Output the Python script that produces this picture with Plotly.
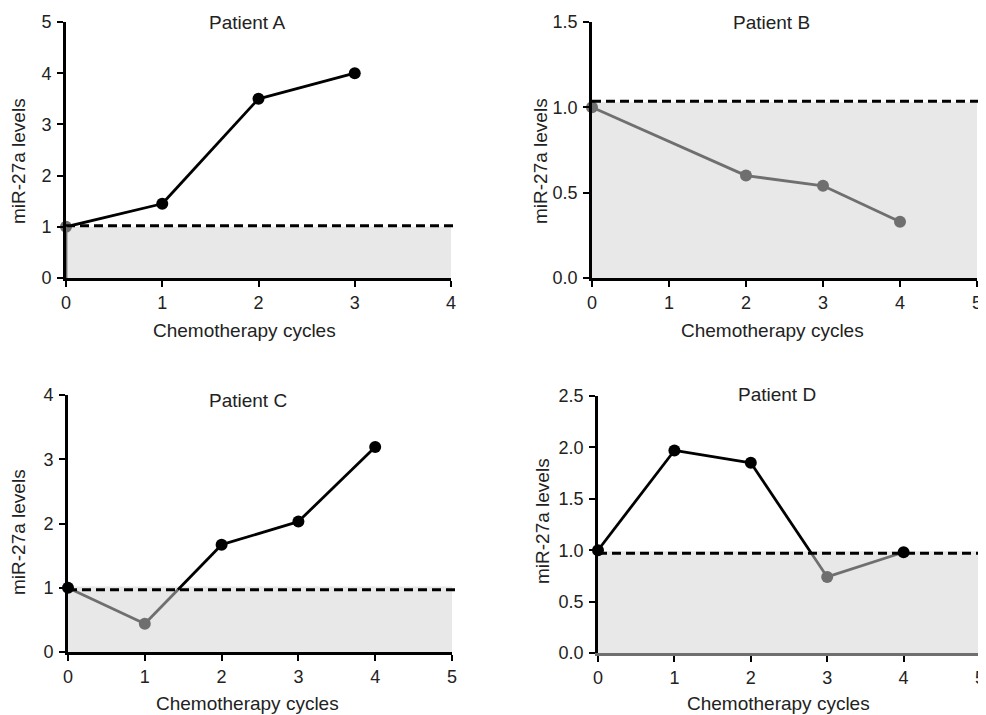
import plotly.graph_objects as go

# The page body adds an 8px margin; design in screen pixels and convert.
OFF = 8
W, H = 986 - OFF, 715 - OFF

# ---- data ----
titles = ["Patient A", "Patient B", "Patient C", "Patient D"]
cycles_A = [0, 1, 2, 3]
levels_A = [1.0, 1.45, 3.5, 4.0]
cycles_B = [0, 2, 3, 4]
levels_B = [1.0, 0.6, 0.54, 0.33]
cycles_C = [0, 1, 2, 3, 4]
levels_C = [1.0, 0.44, 1.67, 2.03, 3.19]
cycles_D = [0, 1, 2, 3, 4]
levels_D = [1.0, 1.97, 1.85, 0.74, 0.98]

# reference band (shaded) top and dashed threshold per panel
band_top = [1.0, 1.03, 1.02, 0.99]
dash_level = [1.02, 1.035, 0.97, 0.97]
y_max = [5, 1.5, 4, 2.5]
y_dtick = [1, 0.5, 1, 0.5]
y_fmt = ["d", ".1f", "d", ".1f"]
x_max = [4, 5, 5, 5]

BLACK = "#000000"
GRAY = "#6f6f6f"
BAND = "#e8e8e8"

# screen-pixel layout of each plot area: (left, right, top, bottom)
boxes = [(66, 451, 22, 278), (592, 977, 22, 278), (68, 452, 395, 652), (598, 980, 396, 653)]
title_pos = [(247, 22), (771, 22), (248, 400), (777, 394)]
xtitle_pos = [(244, 330), (772, 330), (247, 703), (778, 703)]
ytitle_pos = [(18, 161), (540, 161), (18, 532), (542, 521)]

def px(x):
    return (x - OFF) / W

def py(y):
    return 1 - (y - OFF) / H

series = [(cycles_A, levels_A), (cycles_B, levels_B), (cycles_C, levels_C), (cycles_D, levels_D)]

fig = go.Figure()
shapes = []
annotations = []
font = dict(family="Liberation Sans, Arial, sans-serif", size=19, color="#222222")
tickfont = dict(family="Liberation Sans, Arial, sans-serif", size=18, color="#222222")

for i, (xs, ys) in enumerate(series):
    n = i + 1
    xa = "x" if n == 1 else f"x{n}"
    ya = "y" if n == 1 else f"y{n}"
    thr = dash_level[i]
    # split lines into segments coloured by side of threshold
    for k in range(len(xs) - 1):
        x0, y0, x1, y1 = xs[k], ys[k], xs[k + 1], ys[k + 1]
        a0, a1 = y0 > thr, y1 > thr
        if a0 == a1 or i == 0:
            segs = [([x0, x1], [y0, y1], BLACK if (a0 or a1) else GRAY)]
        else:
            t = (thr - y0) / (y1 - y0)
            xc = x0 + t * (x1 - x0)
            segs = [([x0, xc], [y0, thr], BLACK if a0 else GRAY),
                    ([xc, x1], [thr, y1], BLACK if a1 else GRAY)]
        for sx, sy, c in segs:
            fig.add_trace(go.Scatter(x=sx, y=sy, mode="lines", xaxis=xa, yaxis=ya,
                                     line=dict(color=c, width=2.8), showlegend=False,
                                     hoverinfo="skip", cliponaxis=False))
    colors = [BLACK if y > thr else GRAY for y in ys]
    fig.add_trace(go.Scatter(x=xs, y=ys, mode="markers", xaxis=xa, yaxis=ya,
                             marker=dict(color=colors, size=12, line=dict(width=0)),
                             showlegend=False, cliponaxis=False))

    l, r, t_, b = boxes[i]
    axx = dict(domain=[px(l), px(r)], range=[0, x_max[i]], dtick=1, showline=True,
               linecolor=GRAY if i == 3 else BLACK, linewidth=2.8, ticks="outside", ticklen=6,
               tickwidth=2.2, tickcolor=BLACK, showgrid=False, zeroline=False,
               anchor=ya, tickfont=tickfont, fixedrange=True, automargin=False)
    axy = dict(domain=[py(b), py(t_)], range=[0, y_max[i]], dtick=y_dtick[i],
               tickformat=y_fmt[i], showline=True, linecolor=BLACK, linewidth=2.8,
               ticks="outside", ticklen=6, tickwidth=2.2, tickcolor=BLACK, showgrid=False,
               zeroline=False, anchor=xa, tickfont=tickfont, fixedrange=True,
               automargin=False, ticklabelstandoff=2)
    fig.update_layout(**{("xaxis" if n == 1 else f"xaxis{n}"): axx,
                         ("yaxis" if n == 1 else f"yaxis{n}"): axy})

    shapes.append(dict(type="rect", xref=xa, yref=ya, x0=0, x1=x_max[i], y0=0, y1=band_top[i],
                       fillcolor=BAND, line=dict(width=0), layer="below"))
    shapes.append(dict(type="line", xref=f"{xa} domain", yref=ya, x0=0, x1=1.01,
                       y0=dash_level[i], y1=dash_level[i],
                       line=dict(color=BLACK, width=3, dash="9px,5px"), layer="above"))
    if i == 0:
        shapes.append(dict(type="line", xref=xa, yref=ya, x0=0, x1=0, y0=0, y1=band_top[i],
                           line=dict(color=GRAY, width=2.8), layer="above"))

    tx, ty = title_pos[i]
    annotations.append(dict(text=titles[i], x=px(tx), y=py(ty), xref="paper", yref="paper",
                            showarrow=False, font=font, xanchor="center", yanchor="middle"))
    tx, ty = xtitle_pos[i]
    annotations.append(dict(text="Chemotherapy cycles", x=px(tx), y=py(ty), xref="paper",
                            yref="paper", showarrow=False, font=font,
                            xanchor="center", yanchor="middle"))
    tx, ty = ytitle_pos[i]
    annotations.append(dict(text="miR-27a levels", x=px(tx), y=py(ty), xref="paper",
                            yref="paper", showarrow=False, font=font, textangle=-90,
                            xanchor="center", yanchor="middle"))

fig.update_layout(width=W, height=H, margin=dict(l=0, r=0, t=0, b=0, autoexpand=False),
                  paper_bgcolor="white", plot_bgcolor="white",
                  shapes=shapes, annotations=annotations, font=font)

fig.write_html("out.html")
